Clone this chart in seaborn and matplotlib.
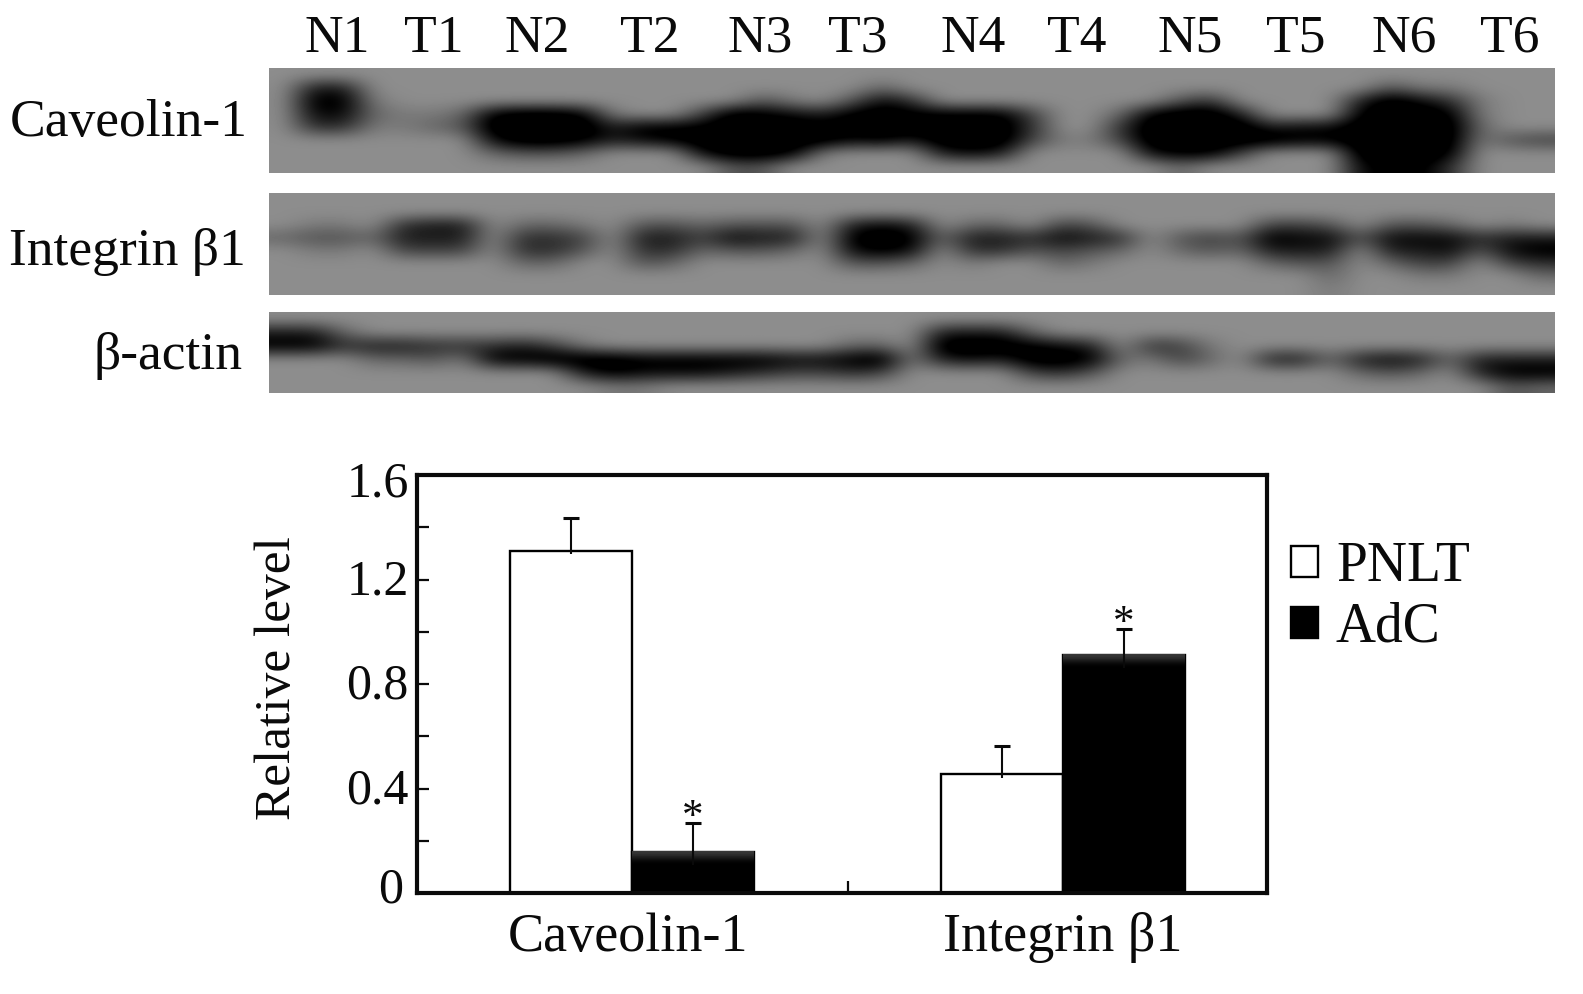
import numpy as np
import pandas as pd
import matplotlib
matplotlib.use("Agg")
import matplotlib.pyplot as plt
import seaborn as sns
from matplotlib.transforms import ScaledTranslation

W, H = 1583, 994

lanes = ["N1", "T1", "N2", "T2", "N3", "T3", "N4", "T4", "N5", "T5", "N6", "T6"]
blot_names = ["Caveolin-1", "Integrin β1", "β-actin"]

caveolin_blot = [
    [9,9,9,9,9,9,9,9,9,9, 9,9,9,9,9,9,9,9,9,9, 9,9,9,9,9,9,9,9,9,9, 9,9,9,9,9,9,9,9,9,9, 9,9,9],
    [9,3,3,9,9,9,9,9,9,9, 9,9,9,9,9,9,9,9,9,9, 7,9,9,9,9,9,9,9,9,9, 9,9,9,9,9,9,9,6,8,8, 9,9,9],
    [9,1,1,8,9,9,9,9,9,9, 9,9,9,9,9,9,6,8,9,6, 2,4,9,9,9,9,9,9,9,9, 6,4,9,9,9,9,3,0,2,4, 8,9,9],
    [9,2,2,7,8,8,7,1,0,0, 1,8,9,9,5,0,1,2,3,1, 0,1,1,1,1,5,9,9,7,1, 0,0,3,9,9,9,1,0,0,1, 8,9,9],
    [9,4,4,8,8,7,6,0,0,0, 0,3,1,1,1,0,0,0,1,0, 0,0,0,0,0,4,9,9,4,0, 0,0,0,3,2,2,0,0,0,0, 7,9,9],
    [9,9,9,9,9,9,9,2,0,0, 1,3,2,1,0,0,0,0,0,2, 1,3,0,0,0,5,8,8,5,0, 0,0,0,0,1,1,0,0,0,0, 8,6,5],
    [9,9,9,9,9,9,9,7,6,6, 7,9,9,9,2,0,0,1,8,9, 9,9,3,2,3,9,9,9,9,2, 1,1,5,9,9,9,0,0,0,1, 9,9,9],
    [9,9,9,9,9,9,9,9,9,9, 9,9,9,9,9,6,6,9,9,9, 9,9,9,9,9,9,9,9,9,9, 7,9,9,9,9,9,2,1,1,4, 9,9,9],
]
integrin_blot = [
    [9,9,9,9,9,9,9,9,9,9, 9,9,9,9,9,9,9,9,9,9, 9,9,9,9,9,9,9,9,9,9, 9,9,9,9,9,9,9,9,9,9, 9,9,9],
    [9,9,9,9,9,9,9,9,9,9, 9,9,9,9,9,9,9,9,9,9, 9,9,9,9,9,9,9,9,9,9, 9,9,9,9,9,9,9,9,9,9, 9,9,9],
    [9,8,8,9,4,3,3,9,7,7, 8,9,6,6,7,6,6,6,9,3, 2,3,9,7,7,9,5,6,9,9, 9,9,9,5,5,6,9,6,6,7, 9,8,9],
    [7,6,6,7,3,3,3,9,4,4, 5,9,3,3,5,2,3,3,9,1, 0,1,7,3,3,4,2,3,4,9, 6,5,6,1,2,2,6,2,2,2, 4,3,3],
    [9,8,8,9,5,5,5,9,4,4, 6,9,4,4,7,6,6,7,9,2, 1,2,9,4,4,6,5,6,7,9, 7,6,7,3,3,3,9,3,3,2, 6,2,1],
    [9,9,9,9,9,9,9,9,7,7, 9,9,6,7,9,9,9,9,9,6, 6,7,9,8,9,9,7,8,9,9, 9,9,9,7,6,6,9,7,5,5, 9,5,4],
    [9,9,9,9,9,9,9,9,9,9, 9,9,9,9,9,9,9,9,9,9, 9,9,9,9,9,9,9,9,9,9, 9,9,9,9,9,7,9,9,8,8, 9,9,7],
    [9,9,9,9,9,9,9,9,9,9, 9,9,9,9,9,9,9,9,9,9, 9,9,9,9,9,9,9,9,9,9, 9,9,9,9,9,8,9,9,9,9, 9,9,9],
]
actin_blot = [
    [9,9,9,9,9,9,9,9,9,9, 9,9,9,9,9,9,9,9,9,9, 9,9,9,9,9,9,9,9,9,9, 9,9,9,9,9,9,9,9,9,9, 9,9,9],
    [3,3,7,9,9,9,9,9,9,9, 9,9,9,9,9,9,9,9,9,9, 9,9,3,3,3,7,9,9,9,9, 9,9,9,9,9,9,9,9,9,9, 9,9,9],
    [1,1,4,3,3,4,4,4,3,5, 8,9,9,9,9,9,9,9,9,7, 7,9,0,0,0,1,2,3,9,4, 5,8,9,9,9,9,9,9,9,9, 9,9,9],
    [9,9,9,7,7,6,8,1,1,0, 0,0,1,1,1,1,1,2,2,1, 0,8,3,2,3,0,0,1,7,8, 5,7,9,3,3,7,3,2,3,7, 3,3,3],
    [9,9,9,9,9,9,9,9,9,9, 3,1,2,2,2,3,4,5,5,4, 5,9,9,9,9,5,4,6,9,9, 9,9,9,9,9,9,7,6,7,9, 3,1,1],
    [9,9,9,9,9,9,9,9,9,9, 9,8,8,9,9,9,9,9,9,9, 9,9,9,9,9,9,9,9,9,9, 9,9,9,9,9,9,9,9,9,9, 9,6,7],
]

markers = ["Caveolin-1", "Caveolin-1", "Integrin β1", "Integrin β1"]
groups = ["PNLT", "AdC", "PNLT", "AdC"]
levels = [1.31, 0.157, 0.455, 0.91]
errors = [0.125, 0.11, 0.108, 0.10]
starred = [False, True, False, True]
y_ticks = [0, 0.4, 0.8, 1.2, 1.6]
y_minor = [0.2, 0.6, 1.0, 1.4]

INK = "#0a0a0a"
sns.set_theme(style="ticks", rc={"axes.labelcolor": INK, "xtick.labelcolor": INK, "ytick.labelcolor": INK,
                                 "xtick.color": INK, "ytick.color": INK, "text.color": INK})
plt.rcParams["font.family"] = ["Liberation Serif", "DejaVu Serif"]

fig = plt.figure(figsize=(W / 100, H / 100), dpi=100)


def px_axes(x0, y0, x1, y1):
    return fig.add_axes([x0 / W, 1 - y1 / H, (x1 - x0) / W, (y1 - y0) / H])


def nudge(lab, dx, dy):
    # dx, dy in pixels, y upwards
    lab.set_transform(lab.get_transform() + ScaledTranslation(dx / 100, dy / 100, fig.dpi_scale_trans))


# blots
blot_boxes = [(68, 173), (193, 295), (312, 393)]
blots = [caveolin_blot, integrin_blot, actin_blot]
for box, blot in zip(blot_boxes, blots):
    a = px_axes(269, box[0], 1555, box[1])
    a.imshow(np.array(blot), cmap="gray", vmin=1.6, vmax=15, aspect="auto", interpolation="bicubic")
    a.axis("off")

# names over and left of the blots
lane_x = [337, 434, 537, 650, 760, 858, 973, 1077, 1190, 1296, 1404, 1510]
for name, x in zip(lanes, lane_x):
    fig.text(x / W, 1 - 52 / H, name, ha="center", va="baseline", fontsize=38.5)
name_right = [248, 246, 243]
name_base = [136, 265, 369]
for name, x, y in zip(blot_names, name_right, name_base):
    fig.text(x / W, 1 - y / H, name, ha="right", va="baseline", fontsize=38.5)

# bar panel
ax = px_axes(417, 475, 1267, 893)
df = pd.DataFrame({"marker": markers, "group": groups, "level": levels})
sns.barplot(data=df, x="marker", y="level", hue="group", palette={"PNLT": "white", "AdC": "black"},
            width=0.565, gap=0, saturation=1, errorbar=None, edgecolor="black", linewidth=1.7, ax=ax)

bars = sorted(ax.patches[:4], key=lambda p: p.get_x())
for p in bars:
    if p.get_facecolor()[0] < 0.5:
        # scanned black bars fade to dark grey at the top
        top = p.get_height()
        ax.imshow([[0.0], [0.05], [0.14], [0.22]], cmap="gray", vmin=0, vmax=1, aspect="auto",
                  interpolation="bicubic", origin="lower", zorder=3,
                  extent=(p.get_x(), p.get_x() + p.get_width(), top - 0.05, top))

for p, err, star in zip(bars, errors, starred):
    cx = p.get_x() + p.get_width() / 2
    top = p.get_height()
    below = 0.05 if p.get_facecolor()[0] < 0.5 else 0.014
    ax.vlines(cx, top - below, top + err, color=INK, linewidth=1.5, zorder=4)
    ax.plot([cx], [top + err], marker="_", markersize=11, markeredgewidth=2.2, color=INK, zorder=4)
    if star:
        ax.annotate("*", (cx, top + err), xytext=(0, -3.6), textcoords="offset points",
                    ha="center", va="baseline", fontsize=31)

ax.set_xlim(-0.499, 1.473)
ax.set_ylim(0, 1.6)
ax.set_yticks(y_ticks)
ax.set_yticklabels(["0", "0.4", "0.8", "1.2", "1.6"])
ax.set_yticks(y_minor, minor=True)
ax.set_xticks([0.5], minor=True)
ax.tick_params(axis="y", which="both", direction="in", length=8.6, width=1.6, labelsize=36, pad=6)
ax.tick_params(axis="x", which="major", length=0, labelsize=39, pad=14)
ax.tick_params(axis="x", which="minor", direction="in", length=9, width=1.6)
ax.set_xlabel("")
ax.set_ylabel("Relative level", fontsize=37)
ax.yaxis.set_label_coords((301 - 417) / 850, 0.515)
for s in ax.spines.values():
    s.set_visible(True)
    s.set_linewidth(3)
    s.set_color(INK)

# tick labels do not sit quite level with their ticks in the original
for lab, dy in zip(ax.get_yticklabels(), [8, 3, 3, 3, -4]):
    nudge(lab, -6 if lab.get_text() == "0" else 0, dy)
nudge(ax.get_xticklabels()[0], -4, 0)

leg = ax.legend(loc="upper left", bbox_to_anchor=(1291 / W, 1 - 541 / H), bbox_transform=fig.transFigure,
                frameon=False, fontsize=40, title=None, handlelength=0.48, handleheight=0.48,
                handletextpad=0.33, labelspacing=0.16, borderpad=0, borderaxespad=0)

plt.savefig("out.png", dpi=100)
